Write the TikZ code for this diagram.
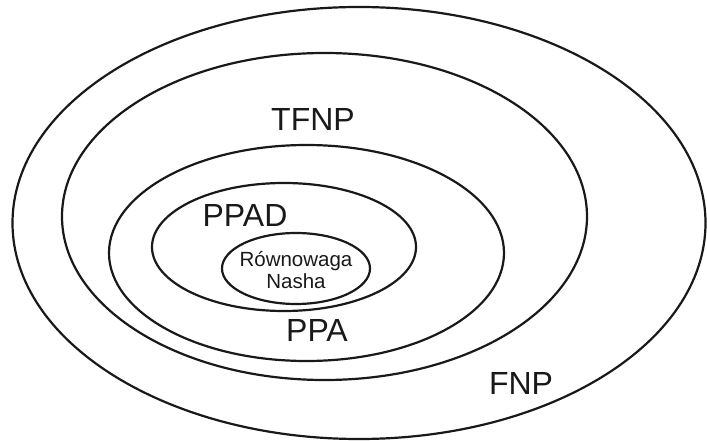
\documentclass[tikz,border=0pt]{standalone}
\usepackage{fontspec}
\setmainfont{Liberation Sans}
\usetikzlibrary{shapes.geometric}
\begin{document}
\begin{tikzpicture}[x=1pt,y=-1pt,
  set/.style={draw=black!90, line width=2.2pt, shape=ellipse, inner sep=0pt, outer sep=0pt},
  biglabel/.style={inner sep=0pt, font=\fontsize{32}{38}\selectfont, text=black!90},
  smalllabel/.style={inner sep=0pt, align=center, font=\fontsize{20.5}{22}\selectfont, text=black!90}]
  \useasboundingbox (0,0) rectangle (707,441);
  % nested complexity classes
  \node[set, minimum width=693pt, minimum height=432pt] (fnp)  at (359,223) {};
  \node[set, minimum width=525pt, minimum height=327pt] (tfnp) at (324.5,216.5) {};
  \node[set, minimum width=395pt, minimum height=216pt] (ppa)  at (306.5,253) {};
  \node[set, minimum width=264pt, minimum height=128pt] (ppad) at (284,247) {};
  \node[set, minimum width=148pt, minimum height=71pt]  (nash) at (296,268.5) {};
  % class names
  \node[biglabel] (lfnp)  at (521,383) {FNP};
  \node[biglabel] (ltfnp) at (313,119) {TFNP};
  \node[biglabel] (lppa)  at (317,330) {PPA};
  \node[biglabel] (lppad) at (245,215.5) {PPAD};
  \node[smalllabel] (lnash) at (296,270.5) {Równowaga\\Nasha};
\end{tikzpicture}
\end{document}
